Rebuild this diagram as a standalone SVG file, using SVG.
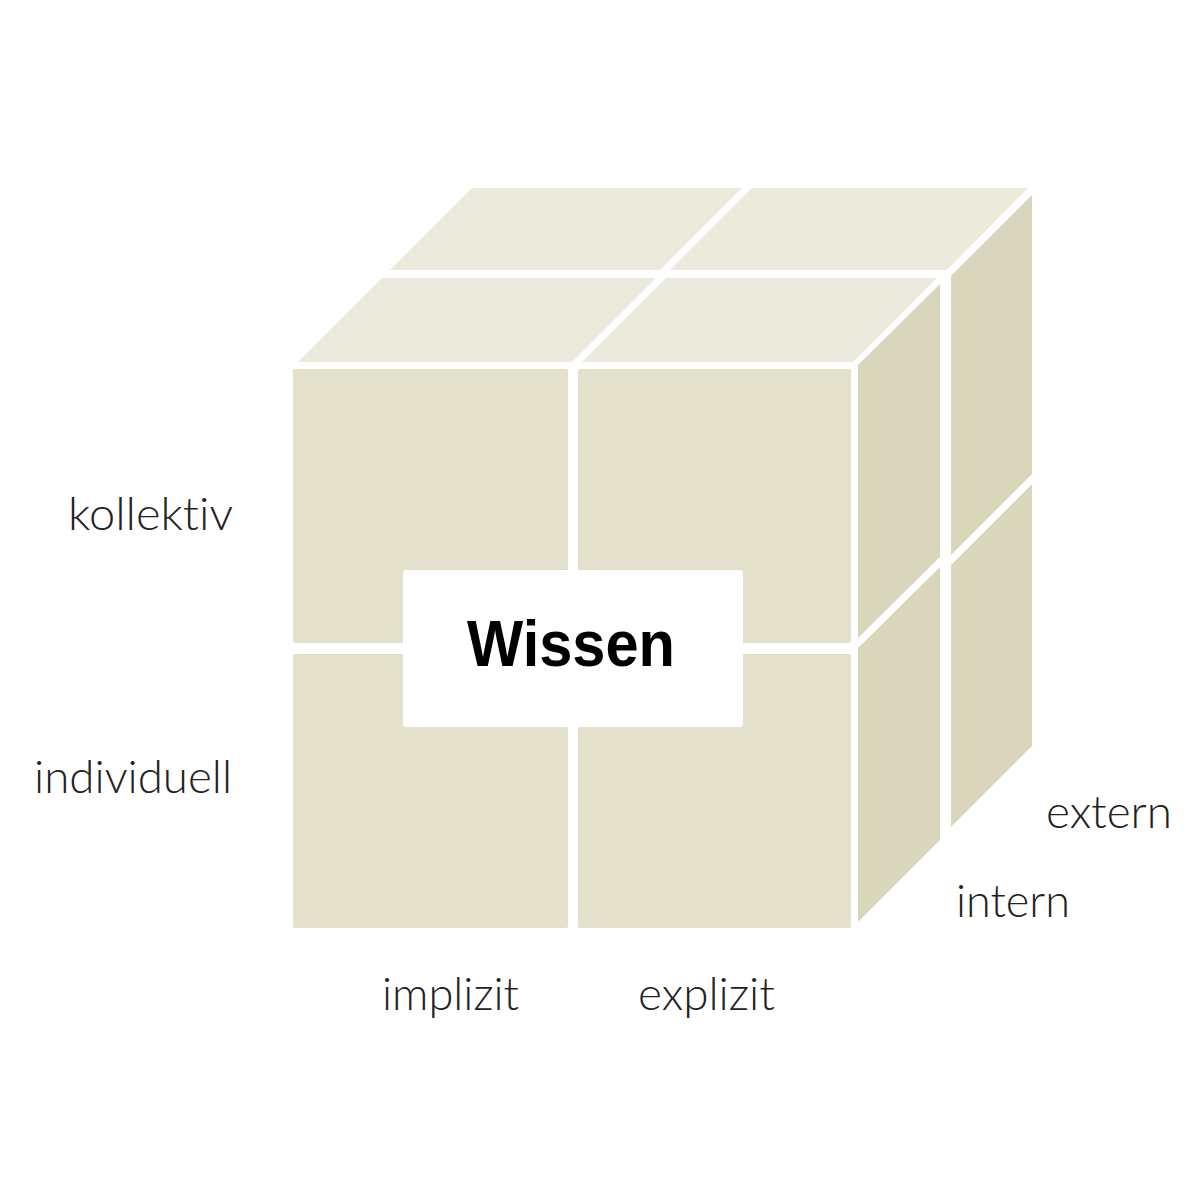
<svg xmlns="http://www.w3.org/2000/svg" width="1200" height="1200" viewBox="0 0 1200 1200">
<style>
.top{fill:#ECEADD}
.front{fill:#E3E0CB}
.side{fill:#DAD6BB}
.lbl{font-family:"Lato","Liberation Sans",sans-serif;font-weight:300;font-size:46px;fill:#222;font-variant-ligatures:none;font-feature-settings:"liga" 0,"dlig" 0}
.title{font-family:"Liberation Sans","Arial",sans-serif;font-weight:bold;font-size:64px;fill:#000}
</style>
<rect width="1200" height="1200" fill="#fff"/>
<g id="cube">
  <g id="top-face">
    <polygon class="top" points="472,188 742,188 660,270 390,270"/>
    <polygon class="top" points="752,188 1028,188 947,270 670,270"/>
    <polygon class="top" points="382,278 656,278 572,362 298,362"/>
    <polygon class="top" points="666,278 937,278 853,362 582,362"/>
  </g>
  <g id="front-face">
    <rect class="front" x="293" y="369" width="275" height="274" rx="2"/>
    <rect class="front" x="578" y="369" width="273" height="274" rx="2"/>
    <rect class="front" x="293" y="654" width="275" height="274" rx="2"/>
    <rect class="front" x="578" y="654" width="273" height="274" rx="2"/>
  </g>
  <g id="right-face">
    <polygon class="side" points="858,365 940,284 940,557 858,638"/>
    <polygon class="side" points="858,648 940,567 940,840 858,922"/>
    <polygon class="side" points="951,276 1032,195 1032,474 951,555"/>
    <polygon class="side" points="951,565 1032,484 1032,746 951,827"/>
  </g>
</g>
<g id="wissen">
  <rect x="403" y="570" width="340" height="157" rx="3" fill="#fff"/>
  <text class="title" x="571" y="666" text-anchor="middle" textLength="208" lengthAdjust="spacingAndGlyphs">Wissen</text>
</g>
<g id="labels">
  <text id="kollektiv" class="lbl" x="68" y="530" textLength="165" lengthAdjust="spacingAndGlyphs">kollektiv</text>
  <text id="individuell" class="lbl" x="34" y="793" textLength="198" lengthAdjust="spacingAndGlyphs">individuell</text>
  <text id="implizit" class="lbl" x="382" y="1010" textLength="137" lengthAdjust="spacingAndGlyphs">implizit</text>
  <text id="explizit" class="lbl" x="638" y="1010" textLength="137" lengthAdjust="spacingAndGlyphs">explizit</text>
  <text id="extern" class="lbl" x="1046" y="828" textLength="126" lengthAdjust="spacingAndGlyphs">extern</text>
  <text id="intern" class="lbl" x="956" y="917" textLength="114" lengthAdjust="spacingAndGlyphs">intern</text>
</g>
</svg>
